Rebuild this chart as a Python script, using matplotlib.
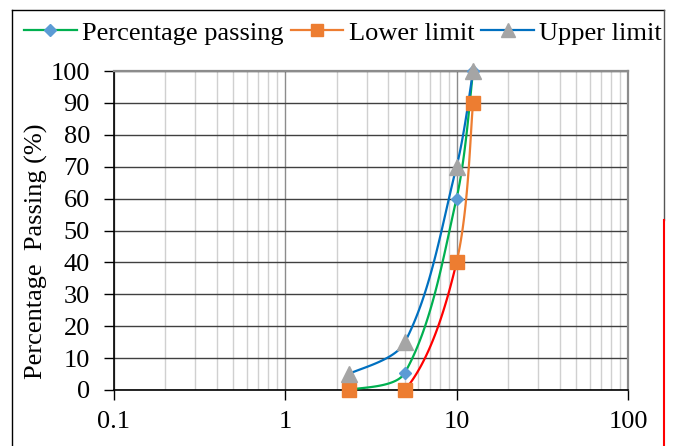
import numpy as np
import matplotlib
matplotlib.use('Agg')
import matplotlib.pyplot as plt
from matplotlib.lines import Line2D

plt.rcParams['font.family'] = ['Liberation Serif', 'DejaVu Serif']

# data
sieve = [2.36, 5, 10, 12.5]
passing = [0, 5.4, 60, 100]
lower = [0, 0, 40, 90]
upper = [5, 15, 70, 100]
labels = ['Percentage passing', 'Lower limit', 'Upper limit']
xticks = [0.1, 1, 10, 100]
xticklabels = ['0.1', '1', '10', '100']
yticks = list(range(0, 101, 10))

W, H = 676, 446
L, R, B, T = 113.5, 628, 390, 71
sx = (R - L) / 3.0
sy = (B - T) / 100.0


def smooth(xs, ys, n=50):
    # smoothed line like the spreadsheet one, worked out in pixel units
    u = np.log10(xs) * sx
    v = np.array(ys, float) * sy
    P = np.column_stack([u, v])
    k = len(P)
    d = np.hypot(*np.diff(P, axis=0).T)
    segs = []
    for i in range(k - 1):
        p0 = P[i]
        p3 = P[i + 1]
        if i == 0:
            c1 = p0 + (p3 - p0) / 6.0
        else:
            c1 = p0 + (p3 - P[i - 1]) * d[i] / (d[i - 1] + d[i]) / 3.0
        if i == k - 2:
            c2 = p3 - (p3 - p0) / 6.0
        else:
            c2 = p3 - (P[i + 2] - p0) * d[i] / (d[i] + d[i + 1]) / 3.0
        t = np.linspace(0, 1, n)[:, None]
        b = (1 - t) ** 3 * p0 + 3 * (1 - t) ** 2 * t * c1 + 3 * (1 - t) * t ** 2 * c2 + t ** 3 * p3
        segs.append(b)
    return [(10 ** (s[:, 0] / sx), s[:, 1] / sy) for s in segs]


fig = plt.figure(figsize=(W / 100, H / 100), dpi=100)
ax = fig.add_axes([L / W, 1 - B / H, (R - L) / W, (B - T) / H])
ax.set_xscale('log')
ax.set_xlim(0.1, 100)
ax.set_ylim(0, 100)

green, blue_l, orange, red, blue_m, gray_m = '#00B050', '#0070C0', '#ED7D31', '#FF0000', '#5B9BD5', '#A5A5A5'
lw = 1.6

for px, py in smooth(sieve, passing):
    ax.plot(px, py, color=green, lw=lw, zorder=3)
for i, (px, py) in enumerate(smooth(sieve, lower)):
    ax.plot(px, py, color=red if i == 1 else orange, lw=lw, zorder=3)
for px, py in smooth(sieve, upper):
    ax.plot(px, py, color=blue_l, lw=lw, zorder=3)

ax.plot(sieve, passing, 'D', color=blue_m, ms=6.5, mec=blue_m, clip_on=False, zorder=5)
ax.plot(sieve, lower, 's', color=orange, ms=10, mec=orange, clip_on=False, zorder=5)
ax.plot(sieve, upper, '^', color=gray_m, ms=11, mec=gray_m, clip_on=False, zorder=5)

ax.set_yticks(yticks)
ax.set_xticks(xticks)
ax.set_xticklabels(xticklabels)
ax.tick_params(axis='both', labelsize=19, length=7, width=1, color='black', direction='out')
ax.tick_params(axis='x', pad=8)
ax.tick_params(axis='y', pad=10)
ax.tick_params(axis='x', which='minor', length=0)

ax.grid(True, which='major', axis='y', color='#404040', lw=1)
ax.grid(True, which='major', axis='x', color='#8c8c8c', lw=1)
ax.grid(True, which='minor', axis='x', color='#d0d0d0', lw=1)
ax.set_axisbelow(True)
for s in ['top', 'right']:
    ax.spines[s].set_color('#8c8c8c')
    ax.spines[s].set_linewidth(1.6)
for s in ['left', 'bottom']:
    ax.spines[s].set_color('black')
    ax.spines[s].set_linewidth(1.2)

ax.set_ylabel('Percentage  Passing (%)', fontsize=19)
ax.yaxis.set_label_coords(-(L - 36) / (R - L), (B - 251) / (B - T))
ax.yaxis.label.set_va('center')

handles = [
    Line2D([], [], color=green, lw=lw, marker='D', ms=6, mfc=blue_m, mec=blue_m),
    Line2D([], [], color=orange, lw=lw, marker='s', ms=9, mfc=orange, mec=orange),
    Line2D([], [], color=blue_l, lw=lw, marker='^', ms=10, mfc=gray_m, mec=gray_m),
]
fig.legend(handles, labels, loc='center', bbox_to_anchor=(343 / W, 1 - 33 / H), ncol=3,
           frameon=False, fontsize=19, handlelength=2.0, handletextpad=0.2,
           columnspacing=0.27, borderpad=0)

# outer border
fig.add_artist(Line2D([12 / W, 664 / W], [1 - 10 / H, 1 - 10 / H], color='black', lw=1))
fig.add_artist(Line2D([12 / W, 12 / W], [1 - 10 / H, 0], color='black', lw=1))
fig.add_artist(Line2D([664 / W, 664 / W], [1 - 10 / H, 1 - 220 / H], color='#555555', lw=1))
fig.add_artist(Line2D([664 / W, 664 / W], [1 - 220 / H, 1 - 445 / H], color=red, lw=1.5))

fig.savefig('out.png', dpi=100)
